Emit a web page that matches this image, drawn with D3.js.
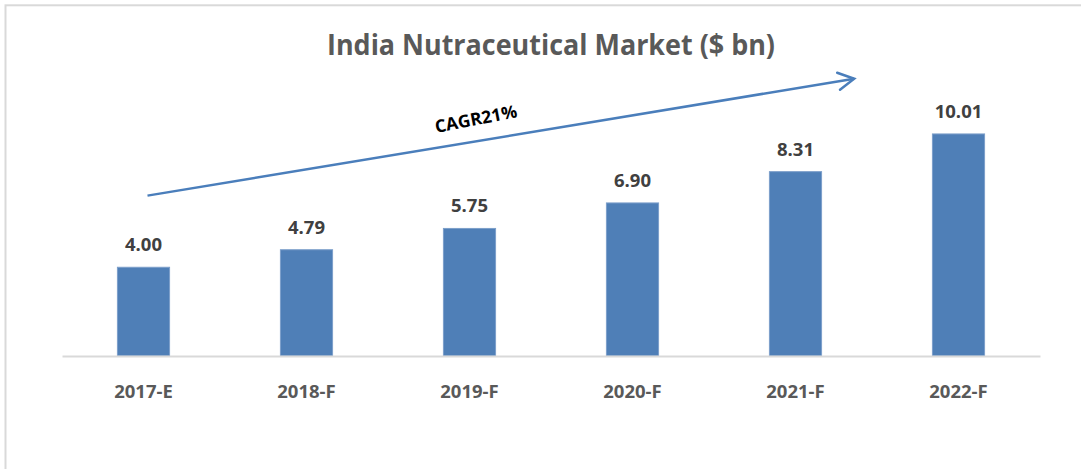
<!DOCTYPE html>
<html><head><meta charset="utf-8">
<script src="https://cdn.jsdelivr.net/npm/d3@7"></script>
<style>html,body{margin:0;padding:0;background:#fff;}svg{display:block;}</style>
</head><body>
<script>
const categories = ["2017-E","2018-F","2019-F","2020-F","2021-F","2022-F"];
const values = [4.00, 4.79, 5.75, 6.90, 8.31, 10.01];
const valueLabels = ["4.00","4.79","5.75","6.90","8.31","10.01"];
const titleText = "India Nutraceutical Market ($ bn)";
const cagrText = "CAGR21%";

const W = 1081, H = 469;
const svg = d3.select("body").append("svg").attr("width", W).attr("height", H);

// outer border
svg.append("rect").attr("x", 5.5).attr("y", 5.3).attr("width", W).attr("height", H)
  .attr("fill", "none").attr("stroke", "#d9d9d9").attr("stroke-width", 2);

const x = d3.scaleBand().domain(categories).range([62, 1040]).paddingInner(0.68).paddingOuter(0.34);
const y = d3.scaleLinear().domain([0, 12]).range([356, 89.8]);
const step = x.step();
const xc = c => x(c) + x.bandwidth() / 2;

// title
svg.append("text").attr("x", (62 + 1040) / 2).attr("y", 55)
  .attr("text-anchor", "middle").attr("font-family", "Open Sans").attr("font-weight", 700)
  .attr("font-size", 28).attr("fill", "#595959")
  .attr("textLength", 448).attr("lengthAdjust", "spacingAndGlyphs")
  .text(titleText);

// bars
svg.append("g").selectAll("rect").data(values).join("rect")
  .attr("x", (d, i) => x(categories[i]))
  .attr("y", d => y(d))
  .attr("width", x.bandwidth())
  .attr("height", d => y(0) - y(d))
  .attr("fill", "#4f7fb7").attr("stroke", "#7c9fca").attr("stroke-width", 1);

// axis line
const xAxis = d3.axisBottom(x).tickSize(0).tickPadding(29);
const ax = svg.append("g").attr("transform", `translate(0,${y(0)})`).call(xAxis);
ax.select(".domain").attr("stroke", "#d9d9d9").attr("stroke-width", 2);
ax.selectAll("text").attr("font-family", "Open Sans").attr("font-weight", 700)
  .attr("font-size", 18.5).attr("fill", "#595959");

// value labels
svg.append("g").selectAll("text").data(values).join("text")
  .attr("x", (d, i) => xc(categories[i]))
  .attr("y", d => y(d) - 16)
  .attr("text-anchor", "middle").attr("font-family", "Open Sans").attr("font-weight", 700)
  .attr("font-size", 18.5).attr("fill", "#404040")
  .text((d, i) => valueLabels[i]);

// CAGR arrow
const x0 = xc(categories[0]) + 4, y0 = y(7.23);
const x1 = xc(categories[4]) + 0.36 * step, y1 = y(12.5);
const ang = Math.atan2(y1 - y0, x1 - x0);
const headLen = 18, headAng = 0.5;
const arrowColor = "#4a7ebb";
svg.append("path")
  .attr("d", d3.line()([[x0, y0], [x1, y1]]))
  .attr("stroke", arrowColor).attr("stroke-width", 2.5).attr("fill", "none");
svg.append("path")
  .attr("d", d3.line()([
    [x1 - headLen * Math.cos(ang - headAng), y1 - headLen * Math.sin(ang - headAng)],
    [x1, y1],
    [x1 - headLen * Math.cos(ang + headAng), y1 - headLen * Math.sin(ang + headAng)]
  ]))
  .attr("stroke", arrowColor).attr("stroke-width", 2.5).attr("fill", "none")
  .attr("stroke-linejoin", "miter").attr("stroke-linecap", "round");

// CAGR label
const tx = 477, ty = 125;
svg.append("text").attr("transform", `translate(${tx},${ty}) rotate(-11)`)
  .attr("text-anchor", "middle").attr("font-family", "Open Sans").attr("font-weight", 700)
  .attr("font-size", 17.5).attr("fill", "#000")
  .text(cagrText);
</script>
</body></html>
